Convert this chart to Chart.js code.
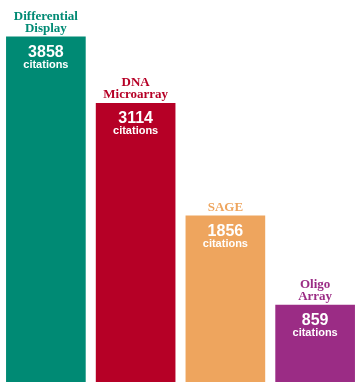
<!DOCTYPE html>
<html>
<head>
<meta charset="utf-8">
<script src="https://cdn.jsdelivr.net/npm/chart.js@4"></script>
<style>
  html, body { margin: 0; padding: 0; background: #fff; }
  #wrap { width: 360px; height: 388px; }
</style>
</head>
<body>
<div id="wrap"><canvas id="barChart"></canvas></div>
<script>
const methods = [['Differential', 'Display'], ['DNA', 'Microarray'], ['SAGE'], ['Oligo', 'Array']];
const citations = [3858, 3114, 1856, 859];
const barColors = ['#008a74', '#b60026', '#eea55e', '#9b2c85'];

// writes the method name above each bar and the count inside it
const barLabels = {
    id: 'barLabels',
    afterDatasetsDraw(chart) {
        const ctx = chart.ctx;
        const meta = chart.getDatasetMeta(0);
        ctx.save();
        ctx.textAlign = 'center';
        ctx.textBaseline = 'alphabetic';
        meta.data.forEach((bar, i) => {
            const x = bar.x;
            const top = bar.y;
            const lines = methods[i];
            ctx.fillStyle = barColors[i];
            ctx.font = 'bold 13px "Liberation Serif", "Times New Roman", serif';
            lines.forEach((line, j) => {
                ctx.fillText(line, x, top - 5 - (lines.length - 1 - j) * 12);
            });
            ctx.fillStyle = '#fff';
            ctx.font = 'bold 16px "Liberation Sans", Arial, sans-serif';
            ctx.fillText(String(citations[i]), x, top + 20);
            ctx.font = 'bold 11px "Liberation Sans", Arial, sans-serif';
            ctx.fillText('citations', x, top + 31);
        });
        ctx.restore();
    },
};

const el = document.getElementById('barChart');

if (el) {
    new Chart(el, {
        type: 'bar',
        data: {
            labels: methods.map(m => m.join(' ')),
            datasets: [
                {
                    data: citations,
                    backgroundColor: barColors,
                    borderWidth: 0,
                    barThickness: 79,
                },
            ],
        },
        options: {
            responsive: true,
            maintainAspectRatio: false,
            animation: false,
            layout: { padding: { top: 24, bottom: 6, left: 1, right: 0 } },
            plugins: {
                legend: { display: false },
                tooltip: { enabled: false },
            },
            scales: {
                x: { display: false },
                y: { display: false, min: 0, max: 4000 },
            },
        },
        plugins: [barLabels],
    });
}
</script>
</body>
</html>
